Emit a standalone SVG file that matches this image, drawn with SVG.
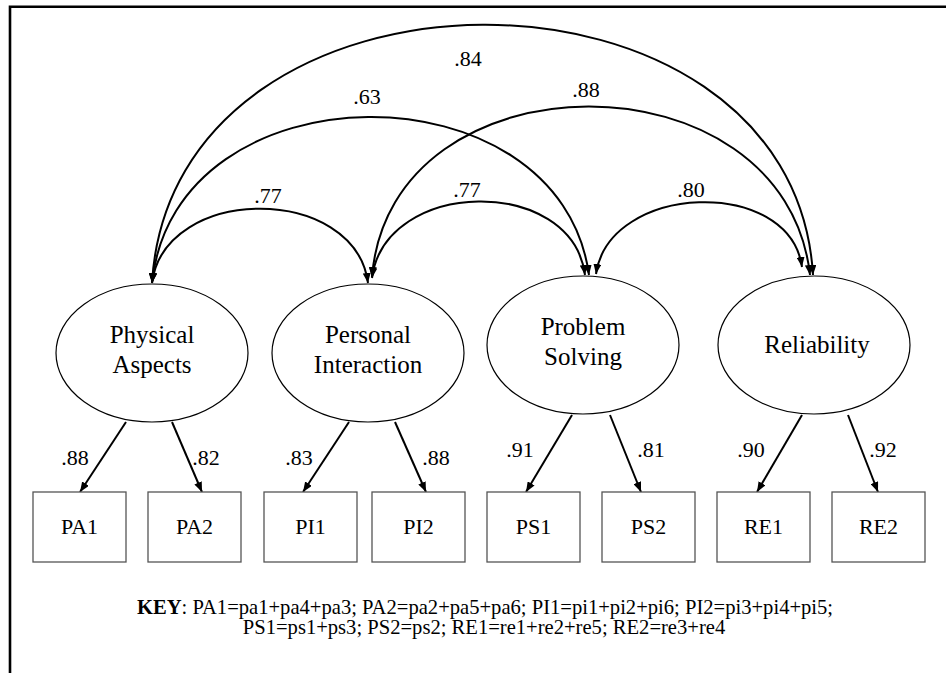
<svg xmlns="http://www.w3.org/2000/svg" width="946" height="673" viewBox="0 0 946 673">
  <defs>
    <marker id="head" viewBox="0 0 10 8" refX="10" refY="4" markerWidth="10" markerHeight="8" markerUnits="userSpaceOnUse" orient="auto-start-reverse">
      <path d="M0,0 L10,4 L0,8 z" fill="#000"/>
    </marker>
    <style>
      .frame { stroke: #000; stroke-width: 2.6; fill: none; }
      .latent { fill: #fff; stroke: #000; stroke-width: 1.2; }
      .obs { fill: #fff; stroke: #555; stroke-width: 1.3; }
      .cov { fill: none; stroke: #000; stroke-width: 2; marker-start: url(#head); marker-end: url(#head); }
      .load { fill: none; stroke: #000; stroke-width: 2; marker-end: url(#head); }
      text { font-family: "Liberation Serif", "Times New Roman", Times, serif; fill: #000; text-anchor: middle; }
      .name { font-size: 25px; }
      .coef { font-size: 22px; }
      .ind { font-size: 22px; }
      .key { font-size: 20.6px; }
    </style>
  </defs>

  <rect width="946" height="673" fill="#fff"/>

  <!-- frame: top and left rules -->
  <path class="frame" d="M10,673 L10,6.7 L946,6.7"/>

  <!-- correlations and loadings -->
  <g id="connectors">
    <path class="cov" d="M152,283 C165,184 355,184 368,283"/>
    <path class="cov" d="M372,278 C385,178 572,175 585,275"/>
    <path class="cov" d="M596,274 C609,183 789,176 802,267"/>
    <path class="cov" d="M152,283 C175,63 560,63 589,275"/>
    <path class="cov" d="M372,277 C390,50 785,50 810,275"/>
    <path class="cov" d="M152,283 C172,-60 793,-60 813,275"/>

    <line class="load" x1="126" y1="422" x2="80" y2="492"/>
    <line class="load" x1="172" y1="422" x2="202" y2="492"/>
    <line class="load" x1="349" y1="422" x2="303" y2="492"/>
    <line class="load" x1="395" y1="422" x2="426" y2="492"/>
    <line class="load" x1="572" y1="415" x2="526" y2="492"/>
    <line class="load" x1="610" y1="415" x2="641" y2="492"/>
    <line class="load" x1="802" y1="415" x2="757" y2="492"/>
    <line class="load" x1="848" y1="415" x2="878" y2="492"/>

    <text class="coef" x="268" y="203">.77</text>
    <text class="coef" x="467" y="197">.77</text>
    <text class="coef" x="691" y="197">.80</text>
    <text class="coef" x="367" y="104">.63</text>
    <text class="coef" x="586" y="97">.88</text>
    <text class="coef" x="468" y="66">.84</text>

    <text class="coef" x="75" y="465">.88</text>
    <text class="coef" x="206" y="465">.82</text>
    <text class="coef" x="299" y="465">.83</text>
    <text class="coef" x="436" y="465">.88</text>
    <text class="coef" x="520" y="457">.91</text>
    <text class="coef" x="651" y="457">.81</text>
    <text class="coef" x="751" y="457">.90</text>
    <text class="coef" x="883" y="457">.92</text>
  </g>

  <!-- latent factors -->
  <g id="physical-aspects">
    <ellipse class="latent" cx="152" cy="353" rx="96" ry="69"/>
    <text class="name" x="152" y="343">Physical</text>
    <text class="name" x="152" y="373">Aspects</text>
  </g>
  <g id="personal-interaction">
    <ellipse class="latent" cx="368" cy="353" rx="96" ry="69"/>
    <text class="name" x="368" y="343">Personal</text>
    <text class="name" x="368" y="373">Interaction</text>
  </g>
  <g id="problem-solving">
    <ellipse class="latent" cx="583" cy="345" rx="96" ry="69"/>
    <text class="name" x="583" y="335">Problem</text>
    <text class="name" x="583" y="365">Solving</text>
  </g>
  <g id="reliability">
    <ellipse class="latent" cx="814" cy="345" rx="96" ry="69"/>
    <text class="name" x="817" y="353">Reliability</text>
  </g>

  <!-- indicators -->
  <g id="PA1"><rect class="obs" x="33" y="492" width="93" height="70"/><text class="ind" x="79.5" y="534">PA1</text></g>
  <g id="PA2"><rect class="obs" x="148" y="492" width="93" height="70"/><text class="ind" x="194.5" y="534">PA2</text></g>
  <g id="PI1"><rect class="obs" x="264" y="492" width="93" height="70"/><text class="ind" x="310.5" y="534">PI1</text></g>
  <g id="PI2"><rect class="obs" x="372" y="492" width="93" height="70"/><text class="ind" x="418.5" y="534">PI2</text></g>
  <g id="PS1"><rect class="obs" x="487" y="492" width="93" height="70"/><text class="ind" x="533.5" y="534">PS1</text></g>
  <g id="PS2"><rect class="obs" x="602" y="492" width="93" height="70"/><text class="ind" x="648.5" y="534">PS2</text></g>
  <g id="RE1"><rect class="obs" x="717" y="492" width="93" height="70"/><text class="ind" x="763.5" y="534">RE1</text></g>
  <g id="RE2"><rect class="obs" x="832" y="492" width="93" height="70"/><text class="ind" x="878.5" y="534">RE2</text></g>

  <!-- key -->
  <g id="key">
    <text class="key" x="485" y="614"><tspan font-weight="bold">KEY</tspan>: PA1=pa1+pa4+pa3; PA2=pa2+pa5+pa6; PI1=pi1+pi2+pi6; PI2=pi3+pi4+pi5;</text>
    <text class="key" x="484" y="634">PS1=ps1+ps3; PS2=ps2; RE1=re1+re2+re5; RE2=re3+re4</text>
  </g>
</svg>
